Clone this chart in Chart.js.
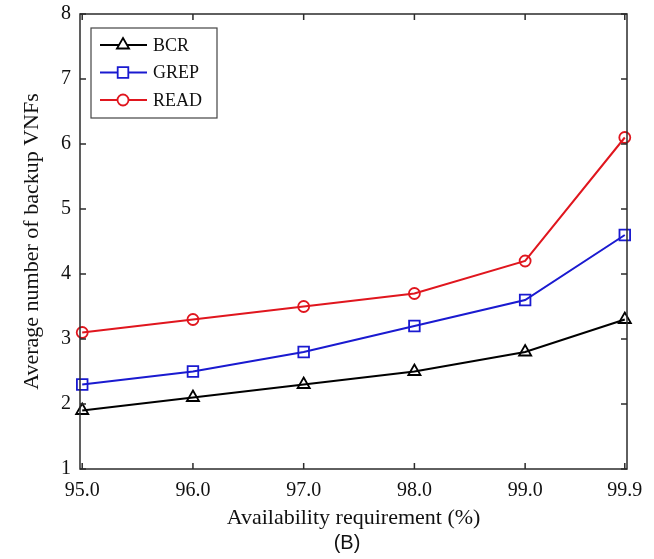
<!DOCTYPE html>
<html>
<head>
<meta charset="utf-8">
<script src="https://cdn.jsdelivr.net/npm/chart.js@4.4.1/dist/chart.umd.min.js"></script>
<style>
html,body{margin:0;padding:0;background:#fff;}
#wrap{width:654px;height:559px;position:relative;}
</style>
</head>
<body>
<div id="wrap"><canvas id="c" width="654" height="559"></canvas></div>
<script>
// ---- data ----
const xValues = [95.0, 96.0, 97.0, 98.0, 99.0, 99.9];
const xTickLabels = ['95.0', '96.0', '97.0', '98.0', '99.0', '99.9'];
const yTicks = [1, 2, 3, 4, 5, 6, 7, 8];
const seriesNames = ['BCR', 'GREP', 'READ'];
const bcrValues = [1.9, 2.1, 2.3, 2.5, 2.8, 3.3];
const grepValues = [2.3, 2.5, 2.8, 3.2, 3.6, 4.6];
const readValues = [3.1, 3.3, 3.5, 3.7, 4.2, 6.1];

const SERIF = '"Liberation Serif", "Times New Roman", serif';
const AXIS_COLOR = '#2b2b2b';

function pts(vals) { return xValues.map((x, i) => ({ x: x, y: vals[i] })); }

const styles = [
  { color: '#000000', pointStyle: 'triangle', radius: 7 },
  { color: '#1a1ad0', pointStyle: 'rect', radius: 7.5 },
  { color: '#e0161e', pointStyle: 'circle', radius: 5.5 }
];
const allValues = [bcrValues, grepValues, readValues];

const datasets = seriesNames.map((name, i) => ({
  label: name,
  data: pts(allValues[i]),
  borderColor: styles[i].color,
  backgroundColor: 'rgba(255,255,255,0)',
  pointBackgroundColor: 'rgba(255,255,255,0)',
  pointBorderColor: styles[i].color,
  pointStyle: styles[i].pointStyle,
  pointRadius: styles[i].radius,
  pointHoverRadius: styles[i].radius,
  pointBorderWidth: 1.8,
  borderWidth: 2,
  tension: 0,
  clip: false
}));

const framePlugin = {
  id: 'frame',
  afterLayout(chart) {
    const tb = chart.titleBlock;
    if (tb) {
      tb.left = chart.chartArea.left - 13;
      tb.right = chart.chartArea.right;
      tb.width = tb.right - tb.left;
    }
  },
  afterDraw(chart) {
    const ctx = chart.ctx;
    const a = chart.chartArea;
    const xs = chart.scales.x, ys = chart.scales.y;
    ctx.save();
    ctx.strokeStyle = AXIS_COLOR;
    ctx.lineWidth = 1.5;
    ctx.strokeRect(a.left, a.top, a.right - a.left, a.bottom - a.top);
    const tl = 6;
    ctx.beginPath();
    xs.ticks.forEach(t => {
      const px = xs.getPixelForValue(t.value);
      ctx.moveTo(px, a.bottom); ctx.lineTo(px, a.bottom - tl);
      ctx.moveTo(px, a.top); ctx.lineTo(px, a.top + tl);
    });
    ys.ticks.forEach(t => {
      const py = ys.getPixelForValue(t.value);
      ctx.moveTo(a.left, py); ctx.lineTo(a.left + tl, py);
      ctx.moveTo(a.right, py); ctx.lineTo(a.right - tl, py);
    });
    ctx.stroke();

    // legend
    const lx = a.left + 11, ly = a.top + 14, lw = 126, lh = 90;
    ctx.fillStyle = '#fff';
    ctx.fillRect(lx, ly, lw, lh);
    ctx.strokeStyle = '#444';
    ctx.lineWidth = 1.2;
    ctx.strokeRect(lx, ly, lw, lh);
    chart.data.datasets.forEach((ds, i) => {
      const y = ly + 17 + i * 27.5;
      ctx.strokeStyle = ds.borderColor;
      ctx.lineWidth = 2;
      ctx.beginPath();
      ctx.moveTo(lx + 9, y); ctx.lineTo(lx + 56, y);
      ctx.stroke();
      ctx.fillStyle = '#fff';
      ctx.lineWidth = 1.8;
      Chart.helpers.drawPoint(ctx, { pointStyle: ds.pointStyle, radius: ds.pointRadius, borderWidth: 1.8, rotation: 0 }, lx + 32, y);
      ctx.fillStyle = '#111';
      ctx.font = '18px ' + SERIF;
      ctx.textAlign = 'left';
      ctx.textBaseline = 'middle';
      ctx.fillText(ds.label, lx + 62, y + 1);
    });
    ctx.restore();
  }
};

new Chart(document.getElementById('c'), {
  type: 'line',
  data: { datasets: datasets },
  options: {
    responsive: false,
    animation: false,
    events: [],
    layout: { padding: { top: 14, right: 27, left: 0, bottom: 0 } },
    plugins: {
      legend: { display: false },
      tooltip: { enabled: false },
      title: {
        display: true,
        position: 'bottom',
        text: '(B)',
        color: '#111',
        font: { family: '"Liberation Sans", Arial, sans-serif', size: 20, weight: 'normal', lineHeight: 1.2 },
        padding: { top: 0, bottom: 4 }
      }
    },
    scales: {
      x: {
        type: 'linear',
        min: 94.98,
        max: 99.92,
        afterBuildTicks(scale) { scale.ticks = xValues.map(v => ({ value: v })); },
        afterFit(scale) { scale.height = 62; scale.paddingLeft = 0; scale.paddingRight = 0; },
        grid: { display: false, drawTicks: false },
        border: { display: false },
        ticks: {
          color: '#111',
          font: { family: SERIF, size: 20 },
          padding: 10,
          autoSkip: false,
          maxRotation: 0,
          callback(v) { const i = xValues.indexOf(v); return i >= 0 ? xTickLabels[i] : ''; }
        },
        title: {
          display: true,
          text: 'Availability requirement (%)',
          color: '#111',
          font: { family: SERIF, size: 22 },
          padding: { top: 0, bottom: 0 }
        }
      },
      y: {
        type: 'linear',
        min: 1,
        max: 8,
        afterBuildTicks(scale) { scale.ticks = yTicks.map(v => ({ value: v })); },
        afterFit(scale) { scale.width = 80; scale.paddingTop = 0; scale.paddingBottom = 0; },
        grid: { display: false, drawTicks: false },
        border: { display: false },
        ticks: {
          color: '#111',
          font: { family: SERIF, size: 20 },
          padding: 9
        },
        title: {
          display: true,
          text: 'Average number of backup VNFs',
          color: '#111',
          font: { family: SERIF, size: 22 },
          padding: { top: 19, bottom: 0 }
        }
      }
    }
  },
  plugins: [framePlugin]
});
</script>
</body>
</html>
